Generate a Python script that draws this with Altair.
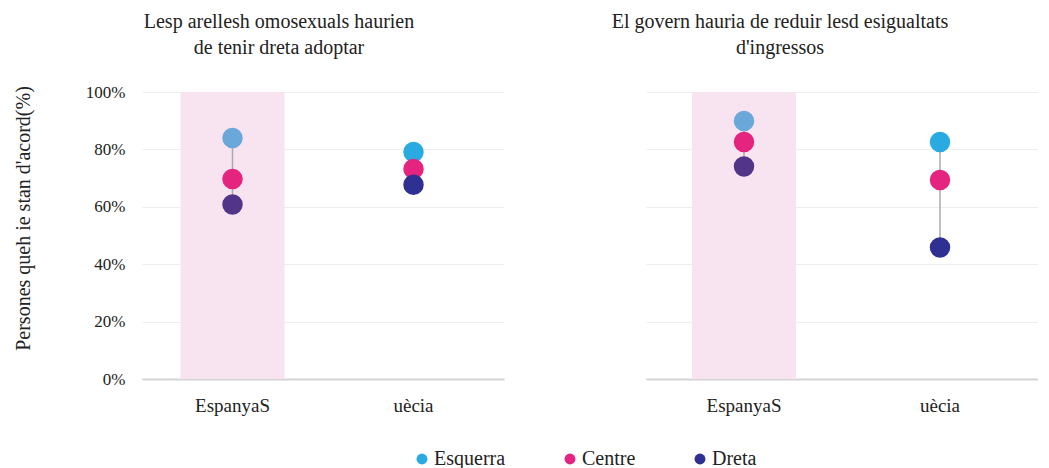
import altair as alt
import pandas as pd

categories = ["EspanyaS", "uècia"]
parties = ["Esquerra", "Centre", "Dreta"]

q1_title = ["Lesp arellesh omosexuals haurien", "de tenir dreta  adoptar"]
q1_espanya = [84.0, 69.7, 60.8]
q1_suecia = [79.1, 73.2, 67.7]

q2_title = ["El govern hauria de reduir lesd esigualtats", "d'ingressos"]
q2_espanya = [89.9, 82.6, 74.0]
q2_suecia = [82.6, 69.3, 45.8]

party_colors = ["#29abe2", "#e5247f", "#2e3192"]
espanya_colors = ["#6aa8da", "#e5247f", "#523589"]

FONT = "Liberation Serif"


def panel(title, esp, sue, width, dx, offset, show_y):
    rows = []
    for i, p in enumerate(parties):
        rows.append({"cat": categories[0], "party": p, "v": esp[i], "col": espanya_colors[i], "ord": i})
        rows.append({"cat": categories[1], "party": p, "v": sue[i], "col": party_colors[i], "ord": i})
    df = pd.DataFrame(rows)
    rng = pd.DataFrame({
        "cat": categories,
        "lo": [min(esp), min(sue)],
        "hi": [max(esp), max(sue)],
    })
    band = pd.DataFrame({"cat": [categories[0]], "top": [100], "bot": [0]})

    xenc = alt.X("cat:N", sort=categories, title=None,
                 scale=alt.Scale(paddingInner=0, paddingOuter=0),
                 axis=alt.Axis(labelAngle=0, labelFontSize=19, labelFont=FONT, labelColor="#222",
                               labelPadding=17, ticks=False, domainColor="#d4d4d4", domainWidth=2,
                               grid=False))
    if show_y:
        yaxis = alt.Axis(values=[0, 20, 40, 60, 80, 100], labelExpr="datum.value + '%'",
                         labelFontSize=17, labelFont=FONT, labelColor="#222", labelPadding=17,
                         ticks=False, domain=False, gridColor="#eeeeee", gridWidth=1.2,
                         title="Persones queh ie stan d'acord(%)", titleFont=FONT, titleFontSize=20,
                         titleFontWeight="normal", titleColor="#222", titlePadding=52,
                         titleY=126)
    else:
        yaxis = alt.Axis(values=[0, 20, 40, 60, 80, 100], labels=False, ticks=False, domain=False,
                         gridColor="#eeeeee", gridWidth=1.2, title=None)
    yscale = alt.Scale(domain=[0, 100], nice=False)

    b = alt.Chart(band).mark_bar(width=104, color="#f8e4f0").encode(
        x=xenc, y=alt.Y("top:Q", scale=yscale, axis=yaxis), y2="bot:Q")
    r = alt.Chart(rng).mark_rule(color="#aaaaaa", strokeWidth=1.5).encode(
        x=alt.X("cat:N", sort=categories), y=alt.Y("lo:Q", scale=yscale), y2="hi:Q")
    pts_esp = alt.Chart(df[df.cat == categories[0]]).mark_circle(size=420, opacity=1).encode(
        x=alt.X("cat:N", sort=categories), y=alt.Y("v:Q", scale=yscale),
        color=alt.Color("col:N", scale=None), order="ord:Q")
    pts_sue = alt.Chart(df[df.cat == categories[1]]).mark_circle(size=420, opacity=1).encode(
        x=alt.X("cat:N", sort=categories), y=alt.Y("v:Q", scale=yscale),
        color=alt.Color("party:N", sort=parties,
                        scale=alt.Scale(domain=parties, range=party_colors),
                        legend=alt.Legend(title=None, orient="none", direction="horizontal",
                                          legendX=270, legendY=357, labelFont=FONT)),
        order="ord:Q")
    return alt.layer(b, r, pts_esp, pts_sue).properties(
        width=width, height=287,
        title=alt.TitleParams(title, font=FONT, fontSize=20, fontWeight="normal", color="#222",
                              anchor="middle", dx=dx, lineHeight=26, offset=offset))


left = panel(q1_title, q1_espanya, q1_suecia, 362, -44, 25, True)
right = panel(q2_title, q2_espanya, q2_suecia, 392, -62, 34, False)

chart = alt.hconcat(left, right, spacing=107).properties(
    padding={"left": 5, "top": 4, "right": 0, "bottom": 0}, background="white"
).configure(font=FONT).configure_view(strokeWidth=0).configure_legend(
    symbolType="circle", symbolSize=120, labelFontSize=20, labelFont=FONT,
    labelColor="#222", columnPadding=54, labelOffset=2)

chart.save("out.html", embed_options={"renderer": "svg", "actions": False})
